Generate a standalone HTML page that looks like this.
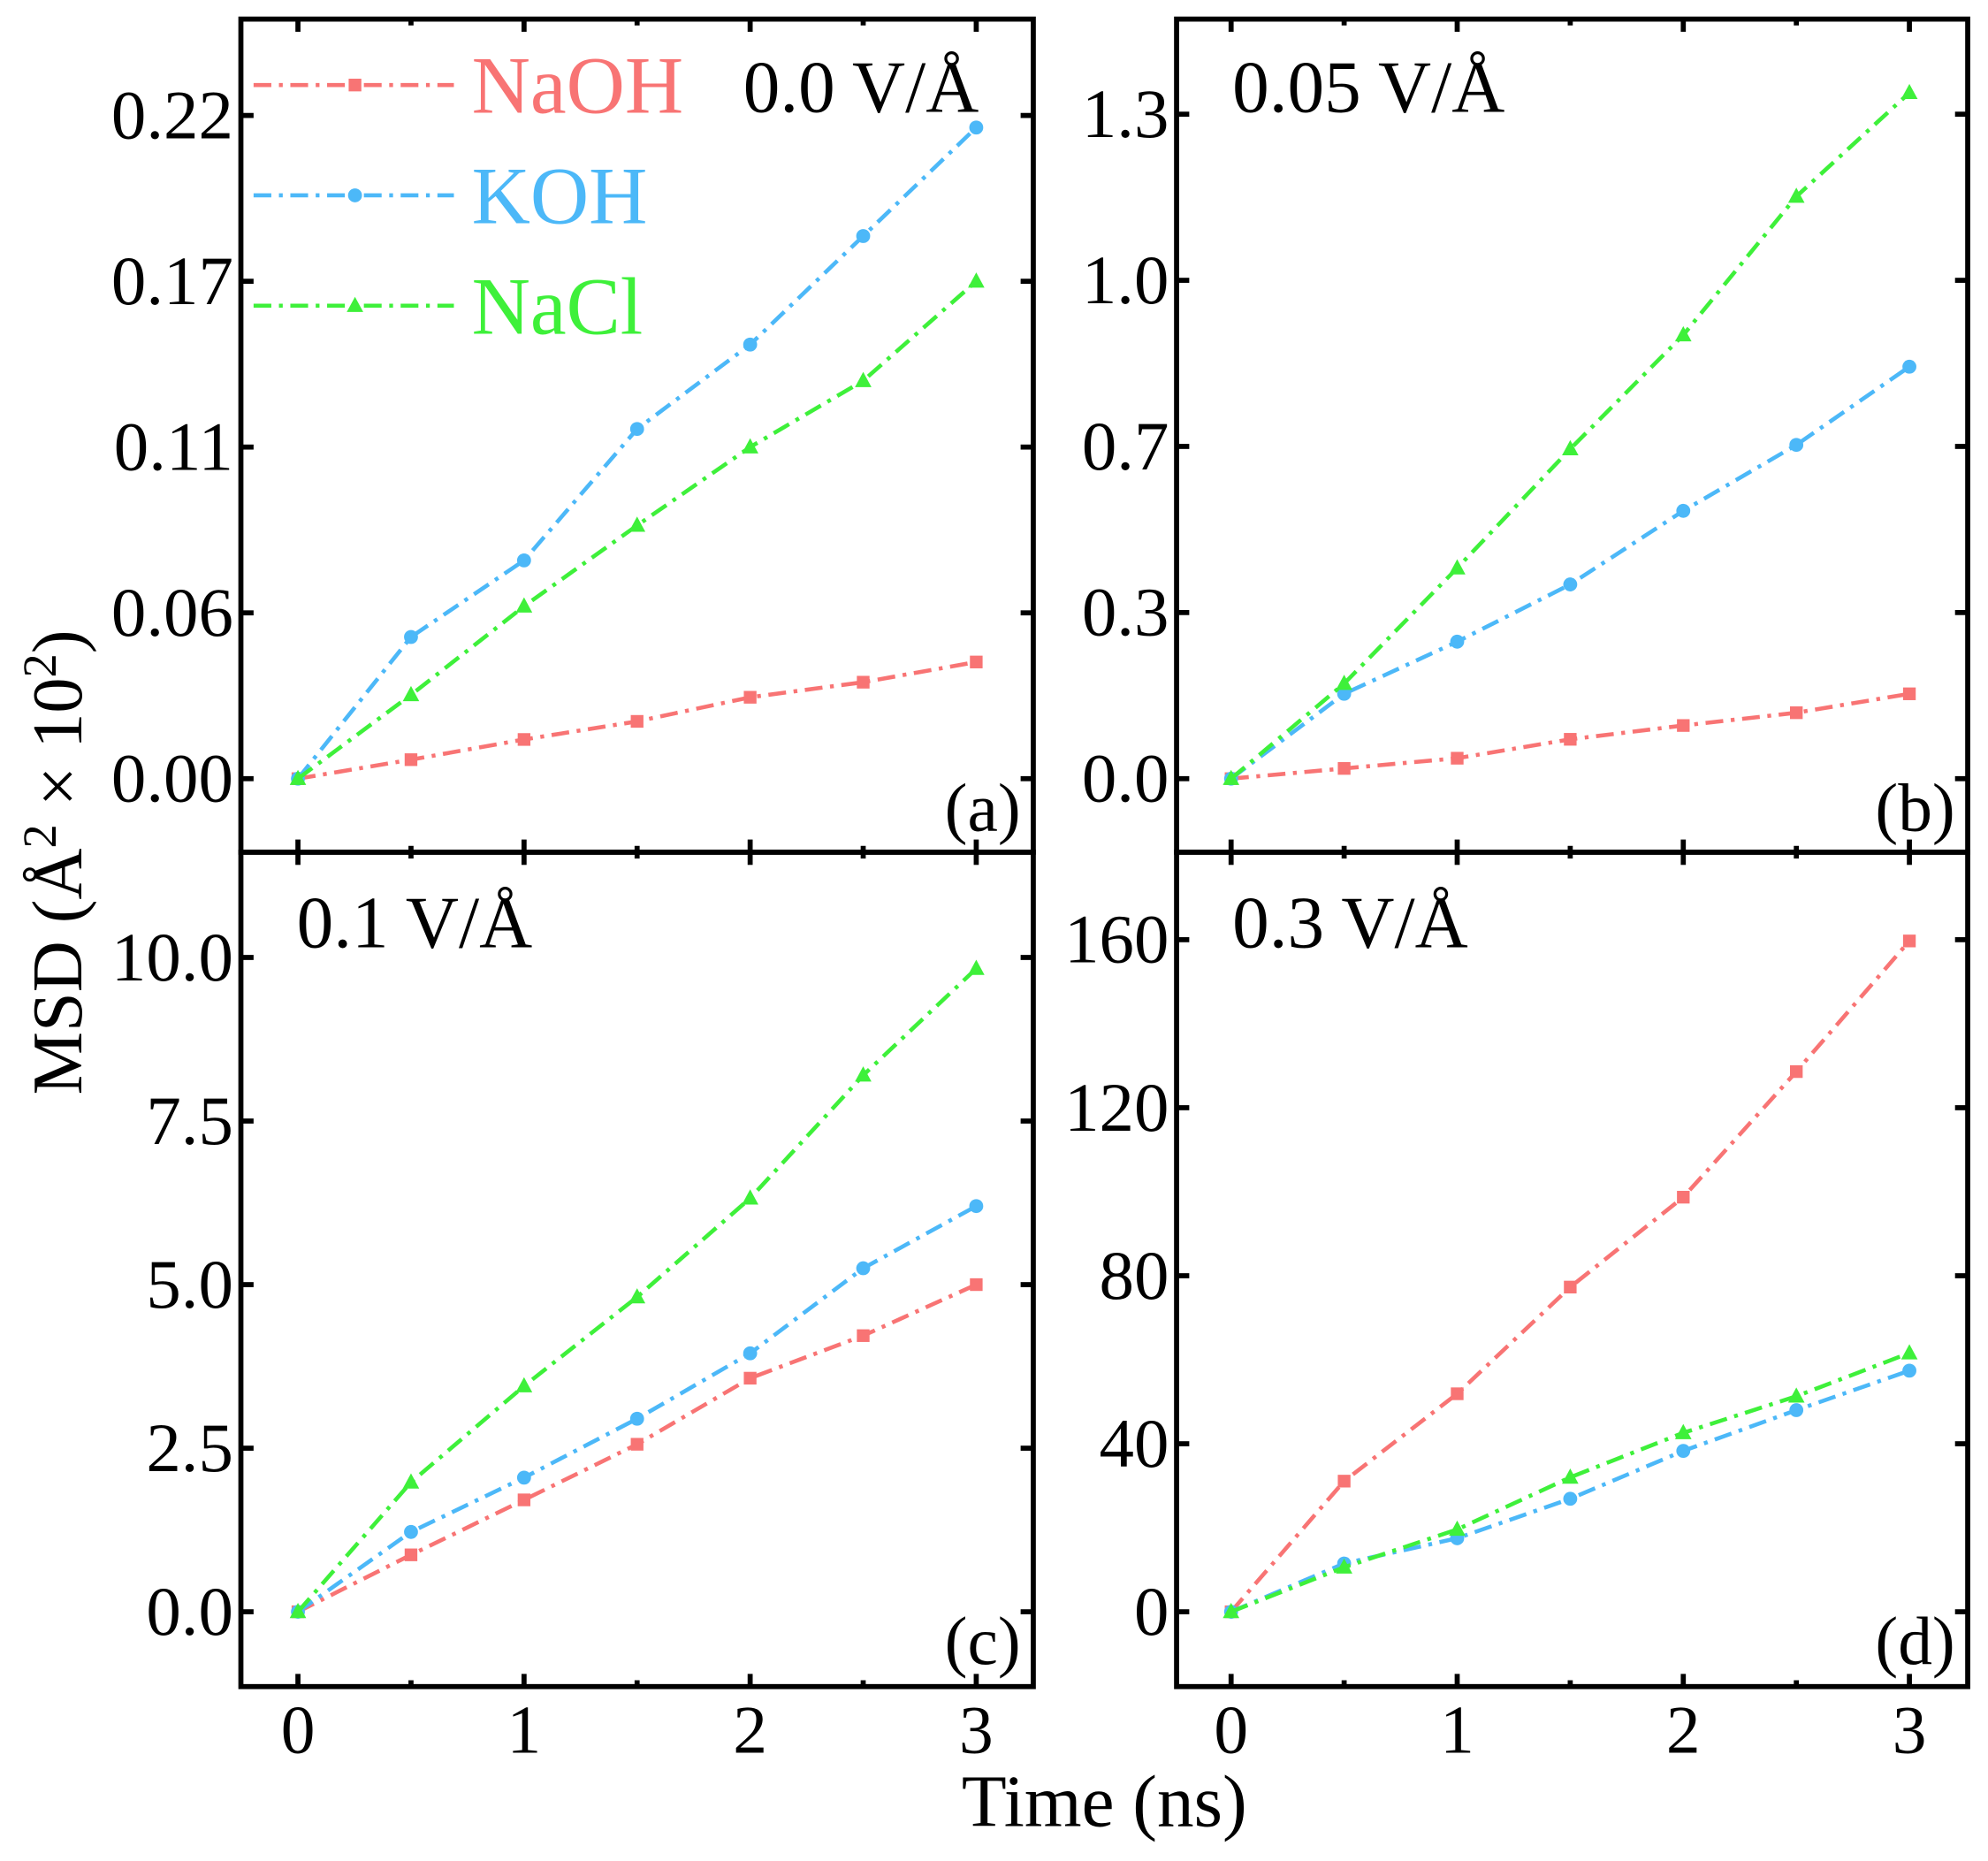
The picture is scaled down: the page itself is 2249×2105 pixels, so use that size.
<!DOCTYPE html>
<html><head><meta charset="utf-8"><style>
html,body{margin:0;padding:0;background:#fff}
svg text{font-family:"Liberation Serif",serif;fill:#000}
</style></head><body>
<svg id="chart" width="2249" height="2100" viewBox="0 0 1568 1464" xmlns="http://www.w3.org/2000/svg">
<text transform="translate(64,680) rotate(-90)" text-anchor="middle" font-size="56">MSD (Å<tspan font-size="38" dy="-20">2</tspan><tspan dy="20"> × 10</tspan><tspan font-size="38" dy="-20">2</tspan><tspan dy="20">)</tspan></text>
<text x="871" y="1440" text-anchor="middle" font-size="58">Time (ns)</text>
</svg>
<script>
const times = [0, 0.5, 1, 1.5, 2, 2.5, 3];
const seriesNames = ['NaOH', 'KOH', 'NaCl'];
const seriesColors = ['#f87474', '#4cb8f8', '#3ef03a'];
const panelTitles = ['0.0 V/Å', '0.05 V/Å', '0.1 V/Å', '0.3 V/Å'];
const panelLetters = ['(a)', '(b)', '(c)', '(d)'];
const tickValuesA = [0, 0.055, 0.11, 0.165, 0.22];
const tickLabelsA = ['0.00', '0.06', '0.11', '0.17', '0.22'];
const tickValuesB = [0, 0.325, 0.65, 0.975, 1.3];
const tickLabelsB = ['0.0', '0.3', '0.7', '1.0', '1.3'];
const tickValuesC = [0, 2.5, 5, 7.5, 10];
const tickLabelsC = ['0.0', '2.5', '5.0', '7.5', '10.0'];
const tickValuesD = [0, 40, 80, 120, 160];
const tickLabelsD = ['0', '40', '80', '120', '160'];
const naohA = [0, 0.0063, 0.013, 0.019, 0.027, 0.032, 0.0387];
const kohA = [0, 0.047, 0.0724, 0.116, 0.144, 0.180, 0.216];
const naclA = [0, 0.0278, 0.0572, 0.084, 0.110, 0.132, 0.165];
const naohB = [0, 0.02, 0.04, 0.077, 0.104, 0.129, 0.166];
const kohB = [0, 0.166, 0.268, 0.38, 0.524, 0.653, 0.806];
const naclB = [0, 0.186, 0.412, 0.645, 0.868, 1.139, 1.342];
const naohC = [0, 0.87, 1.71, 2.56, 3.57, 4.22, 5.0];
const kohC = [0, 1.22, 2.05, 2.95, 3.95, 5.25, 6.2];
const naclC = [0, 1.98, 3.45, 4.81, 6.32, 8.2, 9.83];
const naohD = [0, 31.1, 51.9, 77.3, 98.7, 128.6, 159.7];
const kohD = [0, 11.5, 17.5, 26.9, 38.3, 48, 57.4];
const naclD = [0, 10.6, 19.6, 32, 42.6, 51.3, 61.6];

const NS = 'http://www.w3.org/2000/svg';
const svg = document.getElementById('chart');
function mk(tag, attrs, parent) {
  const e = document.createElementNS(NS, tag);
  for (const k in attrs) e.setAttribute(k, attrs[k]);
  (parent || svg).appendChild(e);
  return e;
}
const panels = [
  {x0:190,x1:815,y0:15,y1:672,ax:235,zero:614,top:91,tv:tickValuesA,tl:tickLabelsA,data:[naohA,kohA,naclA]},
  {x0:928,x1:1552,y0:15,y1:672,ax:971,zero:614,top:90,tv:tickValuesB,tl:tickLabelsB,data:[naohB,kohB,naclB]},
  {x0:190,x1:815,y0:672,y1:1330,ax:235,zero:1271,top:755,tv:tickValuesC,tl:tickLabelsC,data:[naohC,kohC,naclC]},
  {x0:928,x1:1552,y0:672,y1:1330,ax:971,zero:1271,top:741,tv:tickValuesD,tl:tickLabelsD,data:[naohD,kohD,naclD]}
];
const xScale = 535/3;
function marker(kind, x, y, color, g) {
  let m;
  if (kind === 0) m = mk('rect', {x:x-5, y:y-5, width:10, height:10, fill:color}, g);
  else if (kind === 1) m = mk('circle', {cx:x, cy:y, r:5.5, fill:color}, g);
  else m = mk('polygon', {points:`${x},${y-7} ${x-6.5},${y+5} ${x+6.5},${y+5}`, fill:color}, g);
  return m;
}
panels.forEach((p, i) => {
  const g = mk('g', {});
  
  
  const tvMax = p.tv[p.tv.length-1];
  const yS = v => p.zero - (v / tvMax) * (p.zero - p.top);
  const xS = t => p.ax + t * xScale;
  p.tv.forEach((v, j) => {
    const y = yS(v);
    const t1 = mk('line', {x1:p.x0, x2:p.x0+10, y1:y, y2:y, stroke:'#000','stroke-width':4}, g);
    
    
    mk('line', {x1:p.x1, x2:p.x1-10, y1:y, y2:y, stroke:'#000','stroke-width':4}, g);
    const lb = mk('text', {x:p.x0-6, y:y+18, 'text-anchor':'end', 'font-size':55}, g);
    lb.textContent = p.tl[j];
    
    
  });
  for (let k = 0; k <= 6; k++) {
    const x = xS(k*0.5);
    const len = k % 2 === 0 ? 10 : 5;
    mk('line', {x1:x, x2:x, y1:p.y1, y2:p.y1-len, stroke:'#000','stroke-width':4}, g);
    mk('line', {x1:x, x2:x, y1:p.y0, y2:p.y0+len, stroke:'#000','stroke-width':4}, g);
    if (i >= 2 && k % 2 === 0) {
      const xl = mk('text', {x:x, y:1382, 'text-anchor':'middle', 'font-size':54}, g);
      xl.textContent = String(k/2);
      
      
    }
  }
  p.data.forEach((vals, s) => {
    const pts = vals.map((v, k) => xS(times[k]) + ',' + yS(v)).join(' ');
    const pl = mk('polyline', {points:pts, fill:'none', stroke:seriesColors[s], 'stroke-width':3.2, 'stroke-dasharray':'14 6 3 6'}, g);
    
    
    vals.forEach((v, k) => {
      const m = marker(s, xS(times[k]), yS(v), seriesColors[s], g);
      
      
    });
  });
  const fr = mk('rect', {x:p.x0, y:p.y0, width:p.x1-p.x0, height:p.y1-p.y0, fill:'none', stroke:'#000', 'stroke-width':4}, g);
  
  
  const tt = mk('text', i === 0 ? {x:772, y:88, 'text-anchor':'end', 'font-size':58} : {x:p.x0+44, y:88, 'font-size':58}, g);
  if (i >= 2) tt.setAttribute('y', 747);
  tt.textContent = panelTitles[i];
  
  
  const pl2 = mk('text', {x:p.x1-10, y:i<2?655:1312, 'text-anchor':'end', 'font-size':54}, g);
  pl2.textContent = panelLetters[i];
  
  
});
const lgY = [67, 154, 241];
seriesNames.forEach((n, s) => {
  const g = mk('g', {});
  
  
  mk('line', {x1:200, x2:358, y1:lgY[s], y2:lgY[s], stroke:seriesColors[s], 'stroke-width':3.2, 'stroke-dasharray':'14 6 3 6'}, g);
  marker(s, 280, lgY[s], seriesColors[s], g);
  const t = mk('text', {x:372, y:lgY[s]+22, 'font-size':64}, g);
  t.style.fill = seriesColors[s];
  t.textContent = n;
});
</script>
</body></html>
